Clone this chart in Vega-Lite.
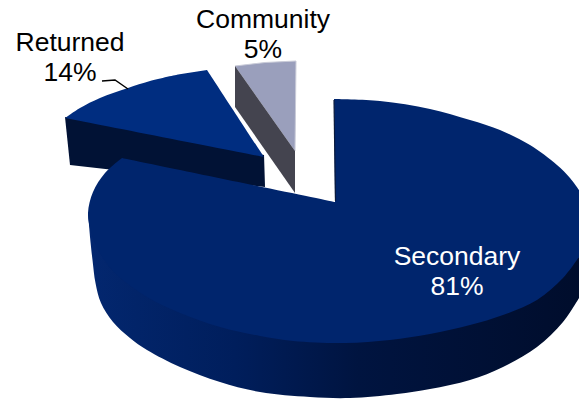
{
  "$schema": "https://vega.github.io/schema/vega-lite/v6.json",
  "width": 579,
  "height": 399,
  "padding": 0,
  "autosize": {"type": "fit", "contains": "padding"},
  "background": "white",
  "config": {"view": {"stroke": null}},
  "datasets": {
    "faces": [
      {"face": "communityWall", "seq": 1, "x": 235, "y": 66},
      {"face": "communityWall", "seq": 2, "x": 295, "y": 151},
      {"face": "communityWall", "seq": 3, "x": 295, "y": 193},
      {"face": "communityWall", "seq": 4, "x": 235, "y": 107},
      {"face": "communityTop", "seq": 1, "x": 235, "y": 66},
      {"face": "communityTop", "seq": 2, "x": 265, "y": 62.5},
      {"face": "communityTop", "seq": 3, "x": 296, "y": 61},
      {"face": "communityTop", "seq": 4, "x": 295, "y": 151},
      {"face": "returnedWall", "seq": 1, "x": 65, "y": 117},
      {"face": "returnedWall", "seq": 2, "x": 264, "y": 155},
      {"face": "returnedWall", "seq": 3, "x": 265, "y": 187},
      {"face": "returnedWall", "seq": 4, "x": 70, "y": 165},
      {"face": "returnedTop", "seq": 1, "x": 207, "y": 70},
      {"face": "returnedTop", "seq": 2, "x": 207, "y": 70},
      {"face": "returnedTop", "seq": 3, "x": 264, "y": 157},
      {"face": "returnedTop", "seq": 4, "x": 264, "y": 157},
      {"face": "returnedTop", "seq": 5, "x": 65, "y": 118},
      {"face": "returnedTop", "seq": 6, "x": 65, "y": 118},
      {"face": "returnedTop", "seq": 7, "x": 80, "y": 108},
      {"face": "returnedTop", "seq": 8, "x": 100, "y": 98},
      {"face": "returnedTop", "seq": 9, "x": 128, "y": 88},
      {"face": "returnedTop", "seq": 10, "x": 150, "y": 81},
      {"face": "returnedTop", "seq": 11, "x": 178, "y": 74.5},
      {"face": "secondaryWall", "seq": 1, "x": 88, "y": 213},
      {"face": "secondaryWall", "seq": 2, "x": 88, "y": 213},
      {"face": "secondaryWall", "seq": 3, "x": 334, "y": 300},
      {"face": "secondaryWall", "seq": 4, "x": 579, "y": 257},
      {"face": "secondaryWall", "seq": 5, "x": 579, "y": 257},
      {"face": "secondaryWall", "seq": 6, "x": 579, "y": 298},
      {"face": "secondaryWall", "seq": 7, "x": 579, "y": 298},
      {"face": "secondaryWall", "seq": 8, "x": 563, "y": 322},
      {"face": "secondaryWall", "seq": 9, "x": 537, "y": 347},
      {"face": "secondaryWall", "seq": 10, "x": 503, "y": 367},
      {"face": "secondaryWall", "seq": 11, "x": 470, "y": 380},
      {"face": "secondaryWall", "seq": 12, "x": 430, "y": 389},
      {"face": "secondaryWall", "seq": 13, "x": 397, "y": 394},
      {"face": "secondaryWall", "seq": 14, "x": 350, "y": 398},
      {"face": "secondaryWall", "seq": 15, "x": 310, "y": 397},
      {"face": "secondaryWall", "seq": 16, "x": 260, "y": 392},
      {"face": "secondaryWall", "seq": 17, "x": 220, "y": 382},
      {"face": "secondaryWall", "seq": 18, "x": 180, "y": 367},
      {"face": "secondaryWall", "seq": 19, "x": 147, "y": 350},
      {"face": "secondaryWall", "seq": 20, "x": 130, "y": 338},
      {"face": "secondaryWall", "seq": 21, "x": 113, "y": 322},
      {"face": "secondaryWall", "seq": 22, "x": 101, "y": 303},
      {"face": "secondaryWall", "seq": 23, "x": 95.5, "y": 283},
      {"face": "secondaryWall", "seq": 24, "x": 92.5, "y": 260},
      {"face": "secondaryWall", "seq": 25, "x": 90, "y": 237},
      {"face": "secondaryTop", "seq": 1, "x": 334, "y": 99},
      {"face": "secondaryTop", "seq": 2, "x": 334, "y": 99},
      {"face": "secondaryTop", "seq": 3, "x": 380, "y": 101},
      {"face": "secondaryTop", "seq": 4, "x": 430, "y": 109},
      {"face": "secondaryTop", "seq": 5, "x": 470, "y": 120},
      {"face": "secondaryTop", "seq": 6, "x": 500, "y": 130},
      {"face": "secondaryTop", "seq": 7, "x": 530, "y": 145},
      {"face": "secondaryTop", "seq": 8, "x": 557, "y": 165},
      {"face": "secondaryTop", "seq": 9, "x": 570, "y": 178},
      {"face": "secondaryTop", "seq": 10, "x": 579, "y": 190},
      {"face": "secondaryTop", "seq": 11, "x": 579, "y": 190},
      {"face": "secondaryTop", "seq": 12, "x": 579, "y": 257},
      {"face": "secondaryTop", "seq": 13, "x": 579, "y": 257},
      {"face": "secondaryTop", "seq": 14, "x": 563, "y": 278},
      {"face": "secondaryTop", "seq": 15, "x": 537, "y": 300},
      {"face": "secondaryTop", "seq": 16, "x": 503, "y": 315},
      {"face": "secondaryTop", "seq": 17, "x": 470, "y": 325},
      {"face": "secondaryTop", "seq": 18, "x": 430, "y": 334},
      {"face": "secondaryTop", "seq": 19, "x": 390, "y": 340},
      {"face": "secondaryTop", "seq": 20, "x": 345, "y": 343},
      {"face": "secondaryTop", "seq": 21, "x": 293, "y": 341},
      {"face": "secondaryTop", "seq": 22, "x": 260, "y": 336},
      {"face": "secondaryTop", "seq": 23, "x": 220, "y": 327},
      {"face": "secondaryTop", "seq": 24, "x": 180, "y": 313},
      {"face": "secondaryTop", "seq": 25, "x": 147, "y": 297},
      {"face": "secondaryTop", "seq": 26, "x": 117, "y": 275},
      {"face": "secondaryTop", "seq": 27, "x": 105, "y": 261},
      {"face": "secondaryTop", "seq": 28, "x": 97, "y": 248},
      {"face": "secondaryTop", "seq": 29, "x": 91, "y": 232},
      {"face": "secondaryTop", "seq": 30, "x": 88, "y": 213},
      {"face": "secondaryTop", "seq": 31, "x": 93, "y": 192},
      {"face": "secondaryTop", "seq": 32, "x": 105, "y": 173},
      {"face": "secondaryTop", "seq": 33, "x": 122, "y": 158},
      {"face": "secondaryTop", "seq": 34, "x": 122, "y": 158},
      {"face": "secondaryTop", "seq": 35, "x": 335, "y": 202},
      {"face": "secondaryTop", "seq": 36, "x": 335, "y": 202}
    ],
    "innerEdge": [
      {"seq": 1, "x": 334, "y": 100},
      {"seq": 2, "x": 335.5, "y": 201}
    ],
    "leader": [
      {"seq": 1, "x": 102, "y": 81},
      {"seq": 2, "x": 115, "y": 80},
      {"seq": 3, "x": 128, "y": 89}
    ],
    "labels": [
      {"slice": "Returned", "text": "Returned", "x": 70, "y": 43, "tone": "dark"},
      {"slice": "Returned", "text": "14%", "x": 70, "y": 73, "tone": "dark"},
      {"slice": "Community", "text": "Community", "x": 263, "y": 20, "tone": "dark"},
      {"slice": "Community", "text": "5%", "x": 263, "y": 50, "tone": "dark"},
      {"slice": "Secondary", "text": "Secondary", "x": 457, "y": 257, "tone": "light"},
      {"slice": "Secondary", "text": "81%", "x": 457, "y": 287, "tone": "light"}
    ]
  },
  "encoding": {
    "x": {"field": "x", "type": "quantitative", "axis": null, "scale": {"domain": [0, 579], "nice": false, "zero": false}},
    "y": {"field": "y", "type": "quantitative", "axis": null, "scale": {"domain": [399, 0], "nice": false, "zero": false}},
    "order": {"field": "seq", "type": "quantitative"}
  },
  "layer": [
    {
      "data": {"name": "faces"},
      "transform": [{"filter": "datum.face === 'communityTop'"}],
      "mark": {"type": "line", "fill": "#9a9fbc", "stroke": "#c9cbd8", "strokeWidth": 1}
    },
    {
      "data": {"name": "faces"},
      "transform": [{"filter": "datum.face === 'communityWall'"}],
      "mark": {"type": "line", "fill": "#44444f", "strokeWidth": 0}
    },
    {
      "data": {"name": "faces"},
      "transform": [{"filter": "datum.face === 'returnedWall'"}],
      "mark": {"type": "line", "fill": "#011235", "strokeWidth": 0}
    },
    {
      "data": {"name": "faces"},
      "transform": [{"filter": "datum.face === 'returnedTop'"}],
      "mark": {"type": "line", "interpolate": "catmull-rom", "fill": "#002d80", "strokeWidth": 0}
    },
    {
      "data": {"name": "faces"},
      "transform": [{"filter": "datum.face === 'secondaryWall'"}],
      "mark": {
        "type": "line",
        "interpolate": "catmull-rom",
        "strokeWidth": 0,
        "fill": {
          "gradient": "linear", "x1": 0, "y1": 0, "x2": 1, "y2": 0,
          "stops": [
            {"offset": 0, "color": "#03276f"},
            {"offset": 0.3, "color": "#001e5c"},
            {"offset": 0.55, "color": "#001440"},
            {"offset": 1, "color": "#000d2c"}
          ]
        }
      }
    },
    {
      "data": {"name": "faces"},
      "transform": [{"filter": "datum.face === 'secondaryTop'"}],
      "mark": {"type": "line", "interpolate": "catmull-rom", "fill": "#00256d", "strokeWidth": 0}
    },
    {
      "data": {"name": "innerEdge"},
      "mark": {"type": "line", "color": "#0a1a3c", "strokeWidth": 1.2}
    },
    {
      "data": {"name": "leader"},
      "mark": {"type": "line", "color": "#000000", "strokeWidth": 1.4}
    },
    {
      "data": {"name": "labels"},
      "mark": {"type": "text", "font": "Liberation Sans", "fontSize": 26.5, "align": "center", "baseline": "middle"},
      "encoding": {
        "text": {"field": "text"},
        "order": {"value": null},
        "color": {"field": "tone", "type": "nominal", "legend": null, "scale": {"domain": ["dark", "light"], "range": ["#000000", "#ffffff"]}}
      }
    }
  ]
}
